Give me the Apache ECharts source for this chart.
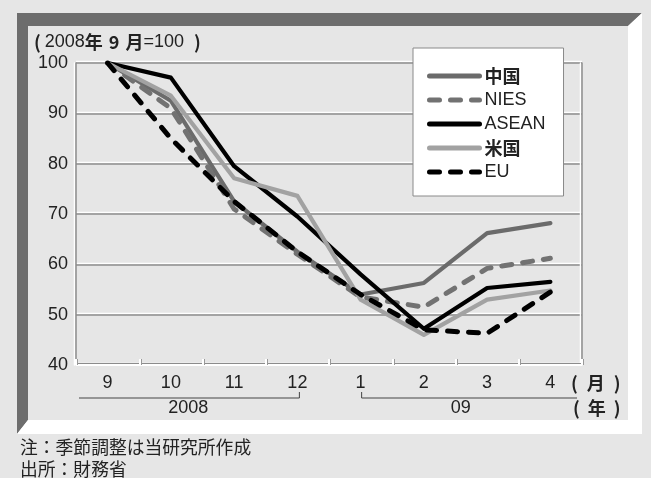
<!DOCTYPE html>
<html><head><meta charset="utf-8">
<script src="https://cdn.jsdelivr.net/npm/echarts@6/dist/echarts.min.js"></script>
<style>html,body{margin:0;padding:0;background:#e6e6e6;}#c{width:651px;height:478px;}</style>
</head><body><div id="c"></div>
<script>
const categories = ['9','10','11','12','1','2','3','4'];
const china = [100, 92.5, 72.5, 62.5, 54.0, 56.3, 66.2, 68.2];
const nies  = [100, 91.0, 71.0, 62.0, 53.5, 51.5, 59.2, 61.2];
const asean = [100, 97.1, 79.5, 69.5, 58.0, 47.2, 55.3, 56.5];
const usa   = [100, 93.5, 77.1, 73.6, 53.0, 46.0, 53.0, 54.8];
const eu    = [100, 85.0, 72.5, 62.5, 54.0, 47.0, 46.3, 54.5];
const yTicks = [40, 50, 60, 70, 80, 90, 100];
const yearLabels = ['2008', '09'];

const FONT = "'Liberation Sans', 'Noto Sans CJK JP', sans-serif";
const JP = "'Noto Sans CJK JP', sans-serif";
const chart = echarts.init(document.getElementById('c'), null, {renderer: 'canvas'});

function mk(name, data, color, dashed) {
  return {
    name, type: 'line', data, symbol: 'none', showSymbol: false, z: 3,
    legendIcon: 'none',
    lineStyle: {color, width: dashed ? 5 : 4.2, type: dashed ? [10, 11] : 'solid', cap: 'round', join: 'round'},
    itemStyle: {color}
  };
}

chart.setOption({
  backgroundColor: '#e6e6e6',
  animation: false,
  textStyle: {fontFamily: FONT},
  grid: {left: 76, right: 69, top: 63, bottom: 113, show: false},
  legend: {
    orient: 'vertical', left: 413, top: 48,
    backgroundColor: '#fff', borderColor: '#8a8a8a', borderWidth: 1,
    padding: [19, 18, 15, 14],
    itemWidth: 50, itemHeight: 14, itemGap: 6,
    itemStyle: {opacity: 0, borderWidth: 0},
    lineStyle: {width: 5, cap: 'round', opacity: 1},
    data: ['中国', 'NIES', 'ASEAN', '米国', 'EU'],
    textStyle: {fontSize: 18, color: '#222', lineHeight: 18, fontFamily: FONT,
      rich: {b: {fontSize: 18, fontWeight: 'bold', color: '#222', fontFamily: JP}}},
    formatter: n => /[A-Z]/.test(n) ? n : '{b|' + n + '}'
  },
  xAxis: {
    type: 'category', data: categories, boundaryGap: true,
    axisLine: {show: true, lineStyle: {color: '#fff', width: 2, shadowColor: '#8c8c8c', shadowOffsetY: -1}},
    axisTick: {show: true, inside: true, length: 6, lineStyle: {color: '#fff', width: 2, shadowColor: '#999', shadowOffsetX: 1}},
    axisLabel: {fontSize: 18, color: '#222', margin: 9, fontFamily: FONT},
    splitLine: {show: false}
  },
  yAxis: [{
    type: 'value', min: 40, max: 100, interval: 10,
    axisLine: {show: true, lineStyle: {color: '#8c8c8c', width: 1.5, shadowColor: '#fff', shadowOffsetX: -1.5}},
    axisTick: {show: false},
    axisLabel: {fontSize: 18, color: '#222', margin: 8, fontFamily: FONT,
      formatter: v => yTicks.includes(v) ? String(v) : ''},
    splitLine: {show: true, lineStyle: {color: '#8c8c8c', width: 1.5, shadowColor: '#fff', shadowOffsetY: -1.5}}
  }, {
    type: 'value', min: 40, max: 100, interval: 10, position: 'right',
    axisLine: {show: true, lineStyle: {color: '#8c8c8c', width: 1.5, shadowColor: '#fff', shadowOffsetX: -1.5}},
    axisTick: {show: false}, axisLabel: {show: false}, splitLine: {show: false}
  }],
  series: [
    mk('中国', china, '#6b6b6b', false),
    mk('NIES', nies, '#727272', true),
    mk('ASEAN', asean, '#000000', false),
    mk('米国', usa, '#a2a2a2', false),
    mk('EU', eu, '#000000', true)
  ]
});

const xc = c => chart.convertToPixel({xAxisIndex: 0}, c);
const x12 = xc('12'), x1 = xc('1'), x9 = xc('9'), x4 = xc('4');
const band = xc('10') - x9;
const axisBottom = chart.convertToPixel({yAxisIndex: 0}, 40);
const lineY = axisBottom + 33, tickTop = lineY - 6;
const yearY = axisBottom + 43;
const labelY = axisBottom + 18;
const left2008 = x9 - band / 2 + 3, right09 = x4 + band / 2 - 5;
const bj = {fontSize: 18, fontWeight: 'bold', fill: '#222', fontFamily: JP};

chart.setOption({
  graphic: [
    {type: 'polygon', z: -10, shape: {points: [[17,13],[642,13],[628,26],[28,26],[28,420],[17,434]]}, style: {fill: '#6d6d6d'}},
    {type: 'polygon', z: -10, shape: {points: [[642,13],[642,434],[17,434],[28,420],[628,420],[628,26]]}, style: {fill: '#ffffff'}},
    {type: 'rect', z: -9, shape: {x: 28, y: 26, width: 600, height: 394}, style: {fill: '#e6e6e6'}},
    {type: 'text', z: 5, x: 34, y: 42, style: {
      text: '{p|(}{n|2008}{b|年}{s| }{b|9}{s| }{b|月}{n|=100}{q|)}',
      verticalAlign: 'middle',
      rich: {
        p: Object.assign({}, bj, {padding: [0, 4, 0, 0]}),
        q: Object.assign({}, bj, {padding: [0, 0, 0, 10]}),
        b: bj,
        s: {fontSize: 18, fontFamily: FONT, width: 6},
        n: {fontSize: 18, fill: '#222', fontFamily: FONT}
      }}},
    {type: 'polyline', z: 5, shape: {points: [[left2008, lineY], [x12 + 2, lineY], [x12 + 2, tickTop]]}, style: {stroke: '#444', lineWidth: 1, fill: null}},
    {type: 'polyline', z: 5, shape: {points: [[x1 + 1, tickTop], [x1 + 1, lineY], [right09, lineY]]}, style: {stroke: '#444', lineWidth: 1, fill: null}},
    {type: 'text', z: 5, x: (left2008 + x12) / 2, y: yearY, style: {text: yearLabels[0], fontSize: 18, fill: '#222', fontFamily: FONT, align: 'center', verticalAlign: 'middle'}},
    {type: 'text', z: 5, x: (x1 + right09) / 2 - 8, y: yearY, style: {text: yearLabels[1], fontSize: 18, fill: '#222', fontFamily: FONT, align: 'center', verticalAlign: 'middle'}},
    {type: 'text', z: 5, x: 571, y: labelY, style: {text: '{b|(}{s| }{b|月}{s| }{b|)}', verticalAlign: 'middle', rich: {b: bj, s: {fontSize: 18, fontFamily: FONT, width: 9}}}},
    {type: 'text', z: 5, x: 573, y: yearY, style: {text: '{b|(}{s| }{b|年}{s| }{b|)}', verticalAlign: 'middle', rich: {b: bj, s: {fontSize: 18, fontFamily: FONT, width: 8}}}},
    {type: 'text', z: 5, x: 20, y: 447, style: {text: '注：季節調整は当研究所作成', fontSize: 17.8, fill: '#222', fontFamily: JP, verticalAlign: 'middle'}},
    {type: 'text', z: 5, x: 20, y: 469, style: {text: '出所：財務省', fontSize: 17.8, fill: '#222', fontFamily: JP, verticalAlign: 'middle'}}
  ]
});
</script></body></html>
